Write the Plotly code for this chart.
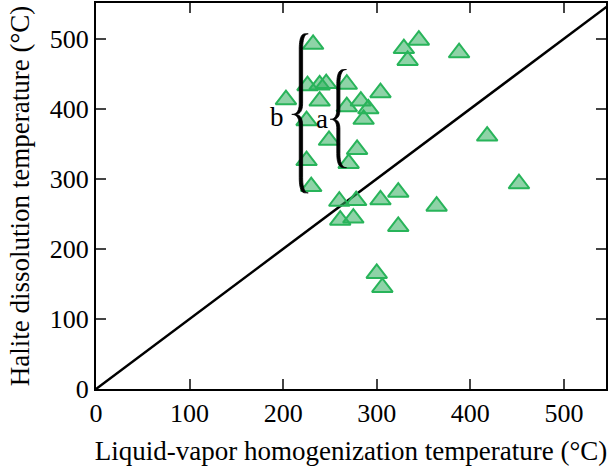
import plotly.graph_objects as go

# Liquid-vapor homogenization temperature (°C)
th = [232, 226, 239, 246, 268, 203, 239, 304, 268, 283, 291, 286, 225, 249, 279,
      270, 225, 230, 260, 278, 304, 323, 364, 261, 275, 323, 300, 306, 345, 329,
      333, 388, 418, 452]
# Halite dissolution temperature (°C)
tm = [492, 433, 434, 436, 435, 413, 411, 423, 403, 411, 400, 385, 383, 355, 342,
      322, 326, 289, 268, 269, 270, 281, 261, 241, 244, 232, 165, 145, 498, 486,
      469, 480, 361, 293]

ticks = [0, 100, 200, 300, 400, 500]
line_xy = [0, 560]

FONT = "Liberation Serif"


def qbez(p0, p1, p2, n=12):
    pts = []
    for i in range(n + 1):
        t = i / n
        x = (1 - t) ** 2 * p0[0] + 2 * (1 - t) * t * p1[0] + t ** 2 * p2[0]
        y = (1 - t) ** 2 * p0[1] + 2 * (1 - t) * t * p1[1] + t ** 2 * p2[1]
        pts.append((x, y))
    return pts


def brace(x_tip, x_v, x_end, y_top, y_mid, y_bot, d_end, d_mid, w):
    # centreline of a "{" from top to bottom, then filled with a constant
    # horizontal width -> thin where the stroke turns horizontal (calligraphic)
    c = []
    c += qbez((x_end, y_top), (x_v, y_top), (x_v, y_top - d_end))
    c += qbez((x_v, y_mid + d_mid), (x_v, y_mid), (x_tip, y_mid))
    c += qbez((x_tip, y_mid), (x_v, y_mid), (x_v, y_mid - d_mid))
    c += qbez((x_v, y_bot + d_end), (x_v, y_bot), (x_end, y_bot))
    left = [(x - w / 2, y) for x, y in c]
    right = [(x + w / 2, y) for x, y in c][::-1]
    pts = left + right
    return "M " + " L ".join(f"{x:.2f},{y:.2f}" for x, y in pts) + " Z"


fig = go.Figure()
fig.add_trace(go.Scatter(x=line_xy, y=line_xy, mode="lines",
                         line=dict(color="black", width=2.5), hoverinfo="skip"))
fig.add_trace(go.Scatter(x=th, y=tm, mode="markers",
                         marker=dict(symbol="triangle-up", size=18,
                                     color="rgba(50,175,95,0.55)",
                                     line=dict(color="rgb(40,180,90)", width=2))))

fig.update_layout(
    width=609, height=474,
    margin=dict(l=96, r=1, t=2, b=85),
    plot_bgcolor="white", paper_bgcolor="white",
    showlegend=False,
    font=dict(family=FONT, size=26, color="black"),
    shapes=[
        dict(type="path", xref="x", yref="y",
             path=brace(211, 219, 225, 507, 392, 280, 22, 16, 3.6),
             fillcolor="black", line=dict(color="black", width=0.8)),
        dict(type="path", xref="x", yref="y",
             path=brace(252, 259, 266, 456, 385, 316, 20, 14, 3.3),
             fillcolor="black", line=dict(color="black", width=0.8)),
    ],
    annotations=[
        dict(x=193, y=388, xref="x", yref="y", text="b", showarrow=False,
             font=dict(family=FONT, size=27)),
        dict(x=242, y=386, xref="x", yref="y", text="a", showarrow=False,
             font=dict(family=FONT, size=27)),
    ],
)
fig.update_xaxes(range=[0, 545], tickvals=ticks, ticks="inside", ticklen=10,
                 tickwidth=2, showline=True, linewidth=2, linecolor="black",
                 mirror="ticks", showgrid=False, zeroline=False,
                 tickfont=dict(size=26),
                 title=dict(text="Liquid-vapor homogenization temperature (°C)",
                            font=dict(size=27), standoff=14))
fig.update_yaxes(range=[0, 551], tickvals=ticks, ticks="inside", ticklen=10,
                 tickwidth=2, showline=True, linewidth=2, linecolor="black",
                 mirror="ticks", showgrid=False, zeroline=False,
                 tickfont=dict(size=26),
                 title=dict(text="Halite dissolution temperature (°C)",
                            font=dict(size=27), standoff=12))

fig.write_html("out.html")
